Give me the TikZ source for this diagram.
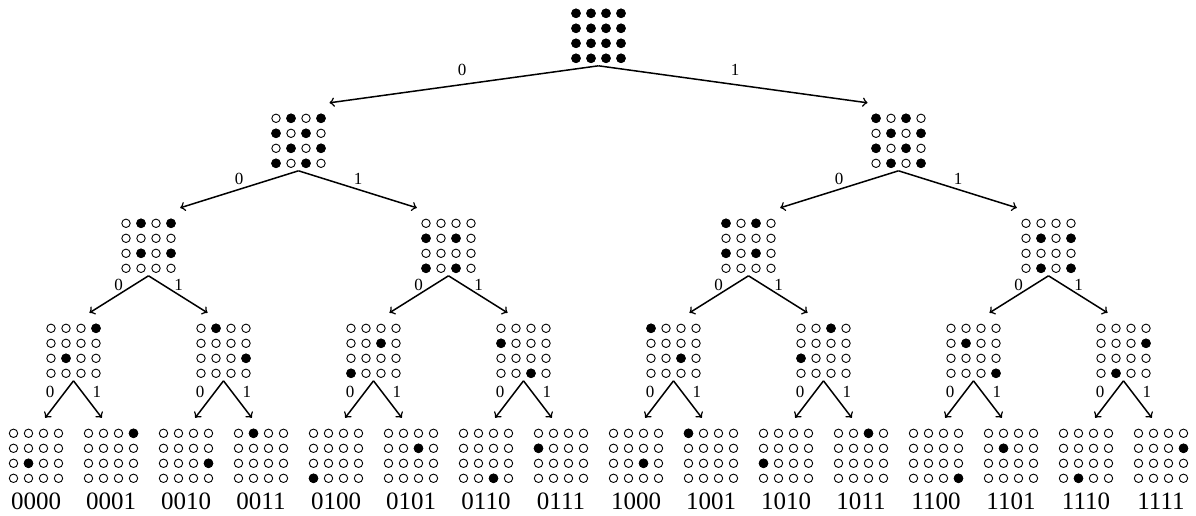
\documentclass[tikz,border=0pt]{standalone}
\usepackage{fontspec}
\setmainfont{Liberation Serif}
\usetikzlibrary{calc}
\tikzset{
  gridbox/.style={draw=none, minimum width=30pt, minimum height=30pt, inner sep=0pt, outer sep=0pt},
  opendot/.style={draw=black, line width=0.45pt, fill=white},
  fulldot/.style={fill=black},
  edge/.style={->, line width=0.75pt},
  elab/.style={font=\fontsize{8.5}{10}\selectfont, inner sep=0pt},
  leaflab/.style={font=\fontsize{12.5}{15}\selectfont, inner sep=0pt, anchor=base},
}
\newcommand\dotgrid[4]{%
  \node[gridbox] (#1) at (#2,#3) {};
  \foreach \gr in {0,...,3}{\foreach \gc in {0,...,3}{
    \draw[opendot] (#2+\gc*15-22.5, #3+\gr*15-22.5) circle[radius=2.1pt];}}
  \foreach \gr/\gc in {#4}{\fill[fulldot] (#2+\gc*15-22.5, #3+\gr*15-22.5) circle[radius=2.4pt];}
}
% parent, child, dx, label, label dx, label dy
\newcommand\tedge[6]{%
  \coordinate (t#2) at ($(#1.south)+(#3,37)$);
  \draw[edge] (#1.south) -- (t#2);
  \node[elab] (e#2) at ($(#1.south)+(#5,#6)$) {#4};
}
\begin{document}
\begin{tikzpicture}[x=0.5pt, y=-0.5pt]
\useasboundingbox (0,0) rectangle (1196,515);
% level 0
\dotgrid{n}{598.5}{35.8}{0/0,0/1,0/2,0/3,1/0,1/1,1/2,1/3,2/0,2/1,2/2,2/3,3/0,3/1,3/2,3/3}
% level 1
\dotgrid{n0}{298.5}{140.8}{0/1,0/3,1/0,1/2,2/1,2/3,3/0,3/2}
\dotgrid{n1}{898.5}{140.8}{0/0,0/2,1/1,1/3,2/0,2/2,3/1,3/3}
% level 2
\dotgrid{n00}{148.5}{245.8}{0/1,0/3,2/1,2/3}
\dotgrid{n01}{448.5}{245.8}{1/0,1/2,3/0,3/2}
\dotgrid{n10}{748.5}{245.8}{0/0,0/2,2/0,2/2}
\dotgrid{n11}{1048.5}{245.8}{1/1,1/3,3/1,3/3}
% level 3
\dotgrid{n000}{73.5}{350.8}{0/3,2/1}
\dotgrid{n001}{223.5}{350.8}{0/1,2/3}
\dotgrid{n010}{373.5}{350.8}{1/2,3/0}
\dotgrid{n011}{523.5}{350.8}{1/0,3/2}
\dotgrid{n100}{673.5}{350.8}{0/0,2/2}
\dotgrid{n101}{823.5}{350.8}{0/2,2/0}
\dotgrid{n110}{973.5}{350.8}{1/1,3/3}
\dotgrid{n111}{1123.5}{350.8}{1/3,3/1}
% level 4
\dotgrid{n0000}{36}{455.8}{2/1}
\dotgrid{n0001}{111}{455.8}{0/3}
\dotgrid{n0010}{186}{455.8}{2/3}
\dotgrid{n0011}{261}{455.8}{0/1}
\dotgrid{n0100}{336}{455.8}{3/0}
\dotgrid{n0101}{411}{455.8}{1/2}
\dotgrid{n0110}{486}{455.8}{3/2}
\dotgrid{n0111}{561}{455.8}{1/0}
\dotgrid{n1000}{636}{455.8}{2/2}
\dotgrid{n1001}{711}{455.8}{0/0}
\dotgrid{n1010}{786}{455.8}{2/0}
\dotgrid{n1011}{861}{455.8}{0/2}
\dotgrid{n1100}{936}{455.8}{3/3}
\dotgrid{n1101}{1011}{455.8}{1/1}
\dotgrid{n1110}{1086}{455.8}{3/1}
\dotgrid{n1111}{1161}{455.8}{1/3}
% leaf labels
\node[leaflab] (l0000) at (36,509) {0000};
\node[leaflab] (l0001) at (111,509) {0001};
\node[leaflab] (l0010) at (186,509) {0010};
\node[leaflab] (l0011) at (261,509) {0011};
\node[leaflab] (l0100) at (336,509) {0100};
\node[leaflab] (l0101) at (411,509) {0101};
\node[leaflab] (l0110) at (486,509) {0110};
\node[leaflab] (l0111) at (561,509) {0111};
\node[leaflab] (l1000) at (636,509) {1000};
\node[leaflab] (l1001) at (711,509) {1001};
\node[leaflab] (l1010) at (786,509) {1010};
\node[leaflab] (l1011) at (861,509) {1011};
\node[leaflab] (l1100) at (936,509) {1100};
\node[leaflab] (l1101) at (1011,509) {1101};
\node[leaflab] (l1110) at (1086,509) {1110};
\node[leaflab] (l1111) at (1161,509) {1111};
% edges level 0 -> 1
\tedge{n}{n0}{-269}{0}{-136.5}{4}
\tedge{n}{n1}{269}{1}{136.5}{4}
% edges level 1 -> 2
\tedge{n0}{n00}{-118.3}{0}{-59.5}{8}
\tedge{n0}{n01}{118.3}{1}{59.5}{8}
\tedge{n1}{n10}{-118.3}{0}{-59.5}{8}
\tedge{n1}{n11}{118.3}{1}{59.5}{8}
% edges level 2 -> 3
\tedge{n00}{n000}{-59}{0}{-30}{9}
\tedge{n00}{n001}{59}{1}{30}{9}
\tedge{n01}{n010}{-59}{0}{-30}{9}
\tedge{n01}{n011}{59}{1}{30}{9}
\tedge{n10}{n100}{-59}{0}{-30}{9}
\tedge{n10}{n101}{59}{1}{30}{9}
\tedge{n11}{n110}{-59}{0}{-30}{9}
\tedge{n11}{n111}{59}{1}{30}{9}
% edges level 3 -> 4
\tedge{n000}{n0000}{-28.3}{0}{-23.3}{11}
\tedge{n000}{n0001}{28.3}{1}{23.3}{11}
\tedge{n001}{n0010}{-28.3}{0}{-23.3}{11}
\tedge{n001}{n0011}{28.3}{1}{23.3}{11}
\tedge{n010}{n0100}{-28.3}{0}{-23.3}{11}
\tedge{n010}{n0101}{28.3}{1}{23.3}{11}
\tedge{n011}{n0110}{-28.3}{0}{-23.3}{11}
\tedge{n011}{n0111}{28.3}{1}{23.3}{11}
\tedge{n100}{n1000}{-28.3}{0}{-23.3}{11}
\tedge{n100}{n1001}{28.3}{1}{23.3}{11}
\tedge{n101}{n1010}{-28.3}{0}{-23.3}{11}
\tedge{n101}{n1011}{28.3}{1}{23.3}{11}
\tedge{n110}{n1100}{-28.3}{0}{-23.3}{11}
\tedge{n110}{n1101}{28.3}{1}{23.3}{11}
\tedge{n111}{n1110}{-28.3}{0}{-23.3}{11}
\tedge{n111}{n1111}{28.3}{1}{23.3}{11}
\end{tikzpicture}
\end{document}
